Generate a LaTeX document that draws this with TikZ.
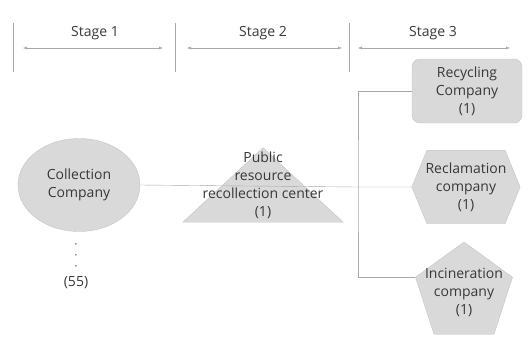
\documentclass[tikz,border=0pt]{standalone}
\usepackage{fontspec}
\setmainfont{Open Sans}
\usepackage{tikz}
\usetikzlibrary{shapes.geometric, arrows.meta, positioning, calc, backgrounds}
\definecolor{shapefill}{HTML}{D9D9D9}
\definecolor{shapeline}{HTML}{C4C4C4}
\definecolor{linkgrey}{HTML}{A8A8A8}
\definecolor{textgrey}{HTML}{383838}
\tikzset{
  stagetick/.style={
    draw=linkgrey, thin
  },
  stagearrow/.style={
    draw=linkgrey, thin, {Latex[length=4pt]}-{Latex[length=4pt]}
  },
  stagelabel/.style={
    text=textgrey, font=\fontsize{14}{17}\selectfont
  },
  companytext/.style={
    text=textgrey, align=center, inner sep=1pt, font=\fontsize{14}{18}\selectfont
  },
  companyshape/.style={
    fill=shapefill, draw=shapeline
  },
  companyblock/.style={
    companytext, companyshape
  },
  linkline/.style={
    draw=linkgrey, thin
  }
}

\begin{document}
\begin{tikzpicture}[x=1pt, y=-1pt]
  \useasboundingbox (0,0) rectangle (528,338);

  \foreach \x in {13,175,349}
    \draw[stagetick] (\x,23) -- (\x,72);
  \foreach \i/\xa/\xb/\xl in {1/23/163/95, 2/187/342/263, 3/358/510/433} {
    \coordinate (stage\i left) at (\xa,48);
    \coordinate (stage\i right) at (\xb,48);
    \draw[stagearrow] (stage\i left) -- (stage\i right);
    \node[stagelabel] (stage\i) at (\xl,33) {Stage \i};
  }

  \node[companyblock, ellipse, minimum width=122, minimum height=93] (collect) at (79,185) {Collection\\Company};
  \node[companytext, font=\fontsize{6}{11}\selectfont] (gap) at (76,256) {•\\•\\•};
  \node[companytext] (count) at (76,283) {(55)};

  \node[companytext, minimum width=160, minimum height=74] (center) at (263,185) {Public\\resource\\recollection center\\(1)};
  \begin{scope}[on background layer]
    \filldraw[companyshape] (center.south west) -- (center.north) -- (center.south east) -- cycle;
  \end{scope}

  \node[companyblock, rounded corners=8pt, minimum width=110, minimum height=64] (recycle) at (467,91) {Recycling\\Company\\(1)};

  \node[companytext, minimum width=108, minimum height=73] (reclaim) at (466,187) {Reclamation\\company\\(1)};
  \begin{scope}[on background layer]
    \filldraw[companyshape] (reclaim.west)
      -- ($(reclaim.north west)!0.14!(reclaim.north east)$)
      -- ($(reclaim.north west)!0.86!(reclaim.north east)$)
      -- (reclaim.east)
      -- ($(reclaim.south west)!0.86!(reclaim.south east)$)
      -- ($(reclaim.south west)!0.14!(reclaim.south east)$) -- cycle;
  \end{scope}

  \node[companyshape, regular polygon, regular polygon sides=5, minimum size=102] (burnshape) at (464,293) {};
  \node[companytext] (burn) at (464,292) {Incineration\\company\\(1)};

  \coordinate (split) at (358,187);
  \draw[linkline] (collect.east) -- (split) -- (reclaim.west);
  \draw[linkline] (recycle.west) -| (split) |- (burnshape.corner 2);
\end{tikzpicture}
\end{document}
